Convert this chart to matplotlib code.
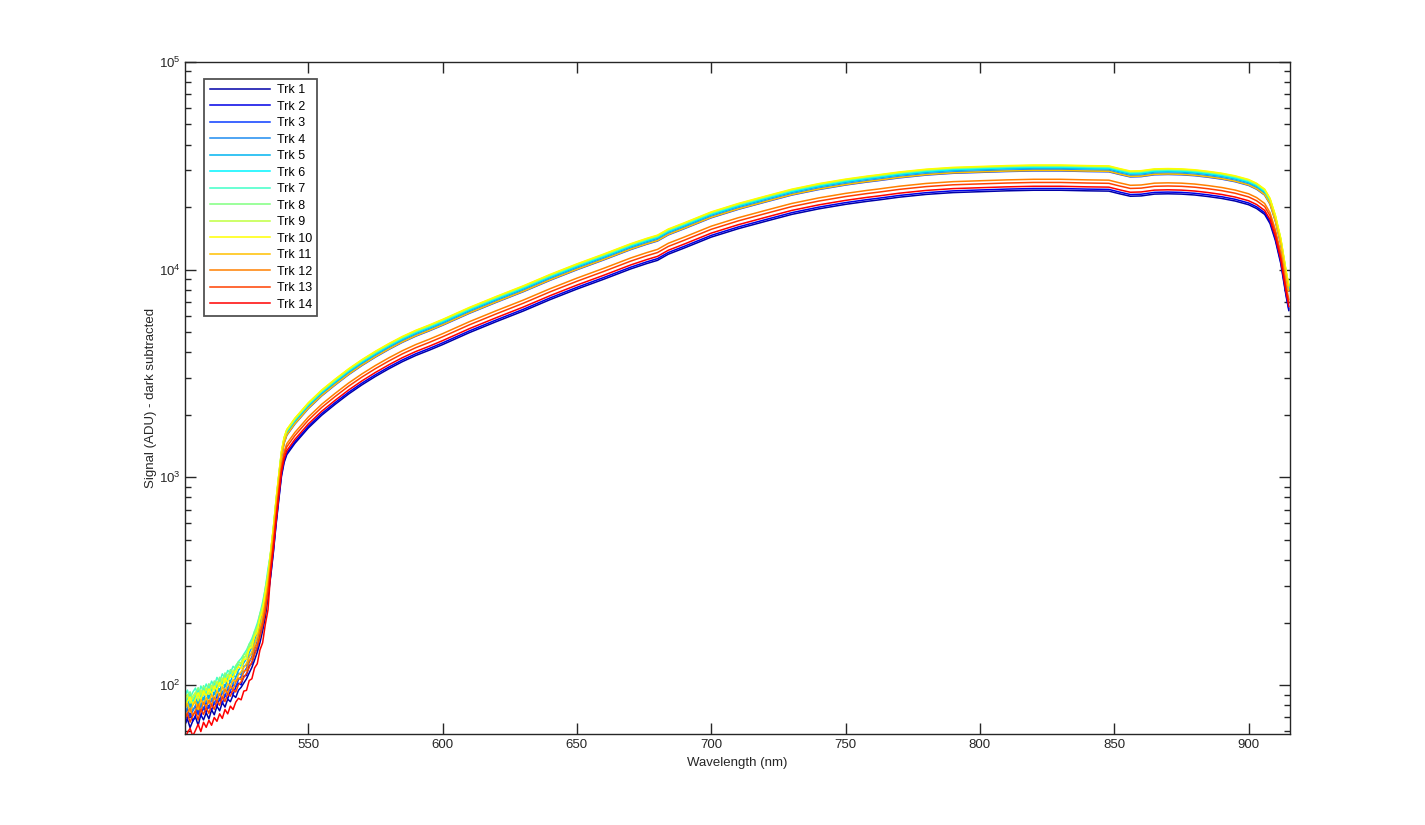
import matplotlib
matplotlib.use("Agg")
import matplotlib.pyplot as plt
import numpy as np

plt.rcParams['font.family'] = ['Liberation Sans', 'DejaVu Sans']
plt.rcParams['mathtext.default'] = 'regular'

# Reference spectrum (top cluster, ~Trk 6)
wl_low = [504, 505, 506, 507, 508, 509, 510, 511, 512, 513, 514, 515, 516, 517, 518,
          519, 520, 521, 522, 523, 524, 525, 526, 527, 528, 529, 530, 531, 532, 533,
          534, 535]
sig_low_a = [80, 86, 78, 84, 88, 80, 90, 85, 92, 86, 95, 90, 99, 94, 103,
             98, 107, 104, 112, 109, 118, 122, 128, 134, 143, 152, 165, 180, 200, 228,
             265, 330]
sig_low_b = [76, 82, 86, 79, 84, 90, 83, 92, 87, 94, 89, 97, 93, 101, 96,
             106, 101, 110, 106, 115, 120, 118, 130, 131, 146, 149, 168, 176, 205, 222,
             272, 320]
wl_high = [536, 537, 538, 539, 540, 541, 542, 545, 550, 555, 560, 565, 570, 575, 580,
           585, 590, 595, 600, 610, 620, 630, 640, 650, 660, 670, 676, 680, 684, 690,
           700, 710, 720, 730, 740, 750, 758, 762, 770, 780, 790, 800, 810, 820, 830,
           840, 848, 852, 856, 860, 865, 870, 875, 880, 885, 890, 895, 900, 903, 906,
           908, 910, 912, 913, 914, 915]
sig_high = [430, 560, 760, 1000, 1300, 1520, 1660, 1880, 2230, 2570, 2900, 3250, 3600, 3950, 4300,
            4650, 4980, 5280, 5620, 6420, 7250, 8150, 9250, 10400, 11600, 13000, 13800, 14300, 15300, 16400,
            18500, 20300, 22000, 23800, 25300, 26600, 27500, 27900, 28800, 29700, 30300, 30600, 30900, 31100, 31100,
            30900, 30800, 29900, 29100, 29200, 29800, 29900, 29800, 29500, 29000, 28400, 27600, 26500, 25400, 23800,
            21500, 17800, 13800, 11500, 9600, 8200]

# Per-track relative gains
tracks = ['Trk %d' % i for i in range(1, 15)]
gain_high = [0.775, 0.79, 0.96, 0.975, 0.99, 1.0, 1.01, 1.015, 1.02, 1.025, 0.965, 0.875, 0.845, 0.81]
gain_low = [0.80, 0.85, 0.90, 0.95, 1.00, 1.05, 1.10, 1.08, 1.05, 1.02, 0.95, 0.90, 0.85, 0.72]
colors = ['#0000a8', '#0000e6', '#0a3cff', '#1e8cf0', '#00b4f0', '#00f5ff', '#40ffc8',
          '#80ff80', '#c0ff40', '#ffff00', '#ffc000', '#ff8000', '#ff4000', '#ff0000']

fig = plt.figure(figsize=(14.25, 8.25), dpi=100)
ax = fig.add_axes([0.13, 0.11, 0.775, 0.815])

wl = np.array(wl_low + wl_high)
for i, name in enumerate(tracks):
    low = sig_low_a if i % 2 == 0 else sig_low_b
    y = np.concatenate([np.array(low) * gain_low[i], np.array(sig_high) * gain_high[i]])
    ax.plot(wl, y, color=colors[i], lw=1.1, label=name)

ax.set_yscale('log')
ax.set_xlim(504.2, 915.3)
ax.set_ylim(58, 1e5)
ax.set_xticks([550, 600, 650, 700, 750, 800, 850, 900])
ax.set_xlabel('Wavelength (nm)', fontsize=9.5, color='#262626', labelpad=4)
ax.set_ylabel('Signal (ADU) - dark subtracted', fontsize=9.5, color='#262626', labelpad=1)

ax.tick_params(which='both', direction='in', top=True, right=True, colors='#262626',
               labelsize=9.5, width=1.0)
ax.tick_params(which='major', length=8)
ax.tick_params(which='minor', length=4)
ax.tick_params(axis='x', which='minor', bottom=False, top=False)
for s in ax.spines.values():
    s.set_color('#262626')
    s.set_linewidth(1.0)

leg = ax.legend(loc='upper left', bbox_to_anchor=(0.017, 0.975), fontsize=9,
                frameon=True, fancybox=False, handlelength=4.8, handletextpad=0.55,
                labelspacing=0.36, borderpad=0.45, borderaxespad=0)
leg.get_frame().set_edgecolor('#262626')
leg.get_frame().set_linewidth(1.3)

fig.savefig('out.png', dpi=100)
